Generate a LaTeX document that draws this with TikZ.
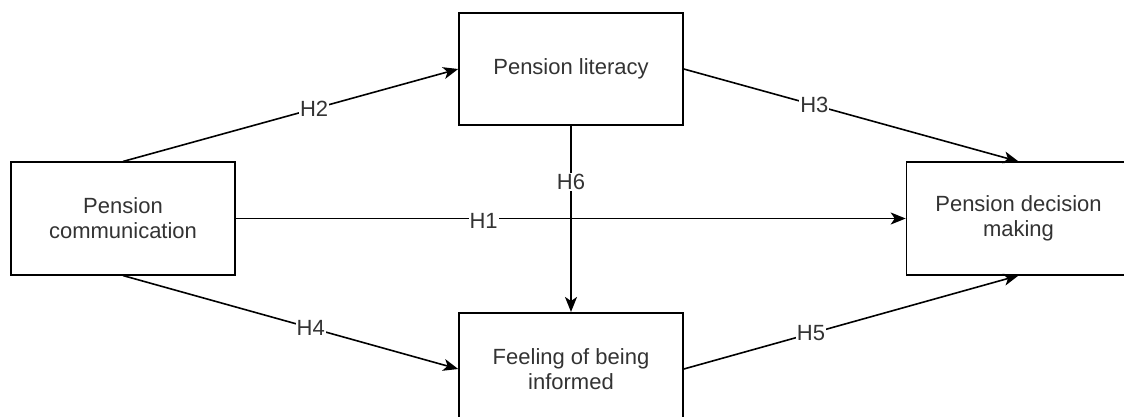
\documentclass[tikz,border=0pt]{standalone}
\usepackage{fontspec}
\setmainfont{Liberation Sans}
\usetikzlibrary{arrows.meta}
\begin{document}
\begin{tikzpicture}[x=1pt,y=-1pt,
  box/.style={draw=black, line width=1.6pt, fill=white, minimum width=224pt, minimum height=112.5pt, inner sep=0pt, align=center, text=black!80, font=\fontsize{22}{25}\selectfont},
  link/.style={draw=black, line width=1.6pt, -{Stealth[length=15pt,width=12pt,inset=4pt]}},
  lbl/.style={fill=white, inner sep=1pt, text=black!80, font=\fontsize{22}{25}\selectfont}]
\useasboundingbox (0,0) rectangle (1124,416);
\clip (0,0) rectangle (1124,416);
\node[box] (comm) at (123,218.5) {Pension\\communication};
\node[box] (lit) at (571,69) {Pension literacy};
\node[box] (feel) at (571,369) {Feeling of being\\informed};
\node[box] (dec) at (1018.5,218.5) {Pension decision\\making};
\draw[link] (comm.north) -- node[lbl, pos=0.57] {H2} (lit.west);
\draw[link] (lit.east) -- node[lbl, pos=0.39] {H3} (dec.north);
\draw[link] (comm.east) -- node[lbl, pos=0.37, yshift=-2pt] {H1} (dec.west);
\draw[link] (comm.south) -- node[lbl, pos=0.56] {H4} (feel.west);
\draw[link] (feel.east) -- node[lbl, pos=0.38] {H5} (dec.south);
\draw[link] (lit.south) -- node[lbl, pos=0.3] {H6} (feel.north);
\end{tikzpicture}
\end{document}
